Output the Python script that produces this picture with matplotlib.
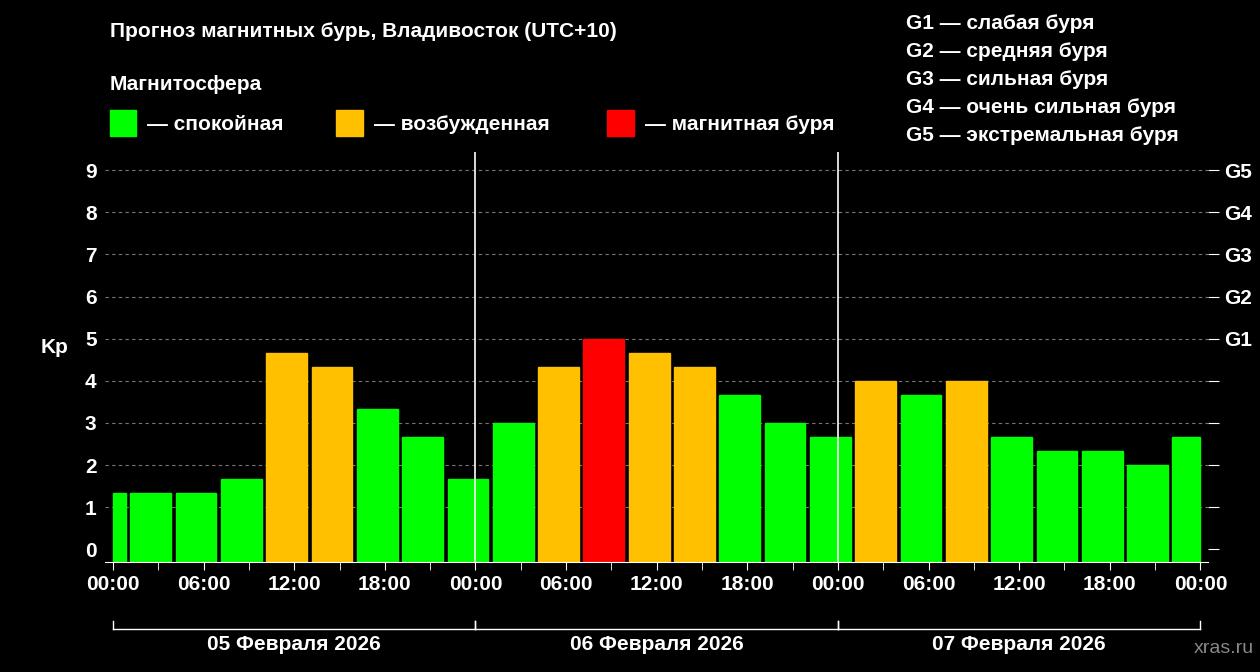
import matplotlib
matplotlib.use("Agg")
import matplotlib.pyplot as plt
from matplotlib.patches import Rectangle

plt.rcParams['font.family'] = ['Liberation Sans', 'DejaVu Sans']
plt.rcParams['font.weight'] = 'bold'

start_hours = [-2 + 3 * i for i in range(25)]
kp = [1.33, 1.33, 1.33, 1.67, 4.67, 4.33, 3.33, 2.67, 1.67,
      3.0, 4.33, 5.0, 4.67, 4.33, 3.67, 3.0, 2.67,
      4.0, 3.67, 4.0, 2.67, 2.33, 2.33, 2.0, 2.67]
xtick_labels = ["00:00", "06:00", "12:00", "18:00"] * 3 + ["00:00"]
days = ["05 Февраля 2026", "06 Февраля 2026", "07 Февраля 2026"]
g_labels = ["G1", "G2", "G3", "G4", "G5"]
legend_items = [("— спокойная", "#00ff00"), ("— возбужденная", "#ffc000"), ("— магнитная буря", "#ff0000")]
g_texts = ["G1 — слабая буря", "G2 — средняя буря", "G3 — сильная буря",
           "G4 — очень сильная буря", "G5 — экстремальная буря"]

def color(v):
    if v >= 5: return "#ff0000"
    if v >= 4: return "#ffc000"
    return "#00ff00"

fig = plt.figure(figsize=(12.6, 6.72), dpi=100, facecolor="black")
ax = fig.add_axes([0.0833, 0.1637, 0.8754, 0.6101], facecolor="black")
ax.set_xlim(-0.53, 72.5)
ax.set_ylim(-0.3, 9.43)

for y in range(1, 10):
    ax.axhline(y, color="#777777", lw=0.8, ls=(0, (3, 3)), zorder=1)

for s, v in zip(start_hours, kp):
    x0 = max(s + 0.15, 0)
    x1 = min(s + 2.85, 72)
    ax.add_patch(Rectangle((x0, 0 - 0.3), x1 - x0, v + 0.3, color=color(v), zorder=2))

for d in (24, 48):
    ax.axvline(d, color="white", lw=1.2, zorder=3)

for sp in ax.spines.values():
    sp.set_visible(False)
ax.spines['bottom'].set_visible(True)
ax.spines['bottom'].set_color("white")

ax.set_xticks(range(0, 73, 6))
ax.set_xticklabels(xtick_labels)
ax.set_xticks(range(0, 73, 3), minor=True)
ax.tick_params(axis='x', which='both', colors="white", labelsize=15, length=6, direction='out')
ax.set_yticks(range(0, 10))
ax.tick_params(axis='y', colors="white", labelsize=15, length=0, pad=6)
ax.set_ylabel("Kp", color="white", fontsize=15, rotation=0, labelpad=22, fontweight='bold')

ax2 = ax.twinx()
ax2.set_ylim(ax.get_ylim())
ax2.set_yticks(range(0, 10))
ax2.set_yticklabels([""] * 5 + g_labels)
ax2.tick_params(axis='y', colors="white", labelsize=15, length=8, direction='out')
for sp in ax2.spines.values():
    sp.set_visible(False)

# day brackets
for i, d in enumerate(days):
    x0, x1 = 24 * i, 24 * (i + 1)
    ax.plot([x0, x1], [-1.9, -1.9], color="white", lw=1, clip_on=False)
    ax.plot([x0, x0], [-1.9, -1.7], color="white", lw=1, clip_on=False)
    ax.plot([x1, x1], [-1.9, -1.7], color="white", lw=1, clip_on=False)
    ax.text((x0 + x1) / 2, -2.25, d, color="white", fontsize=15, ha="center", va="center", clip_on=False)

fig.text(0.087, 0.953, "Прогноз магнитных бурь, Владивосток (UTC+10)", color="white", fontsize=15, va="center")
fig.text(0.087, 0.875, "Магнитосфера", color="white", fontsize=15, va="center")
xs = [0.087, 0.267, 0.482]
for (lab, c), x in zip(legend_items, xs):
    fig.patches.append(Rectangle((x, 0.797), 0.021, 0.04, color=c, transform=fig.transFigure, figure=fig))
    fig.text(x + 0.03, 0.815, lab, color="white", fontsize=15, va="center")
for i, t in enumerate(g_texts):
    fig.text(0.719, 0.965 - i * 0.0415, t, color="white", fontsize=15, va="center")
fig.text(0.995, 0.035, "xras.ru", color="#888888", fontsize=14, ha="right", va="center", fontweight='normal')

fig.savefig("out.png", dpi=100, facecolor="black")
